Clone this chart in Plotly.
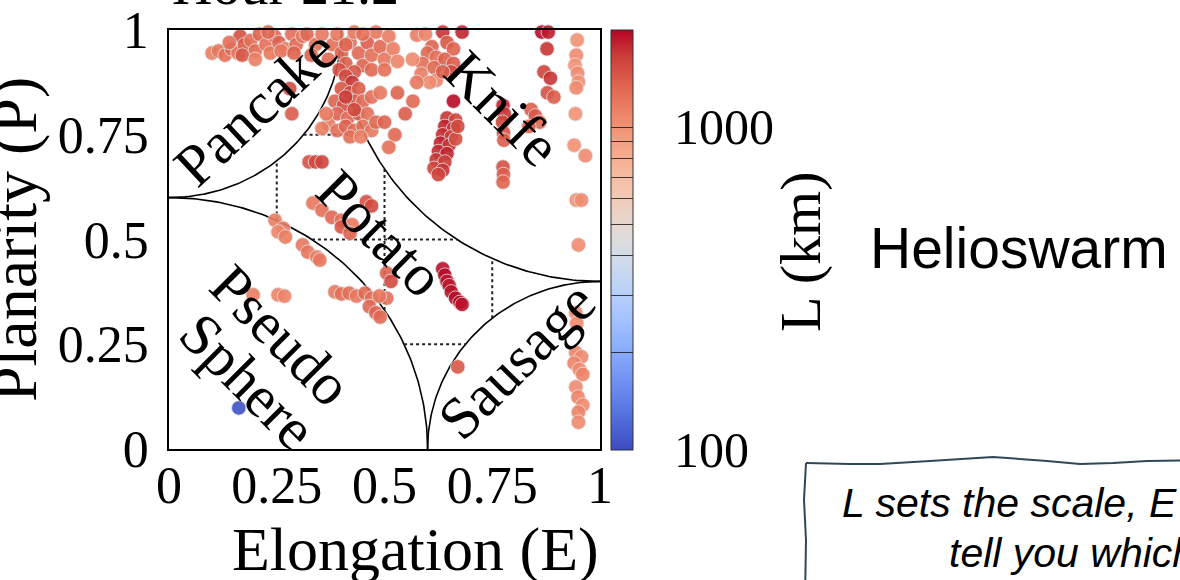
import numpy as np
import plotly.graph_objects as go

# ---------------- data ----------------
elongation = [
    .10, .115, .13, .145, .16, .165, .175, .19, .20, .21, .225, .235, .245, .255, .27, .285, .295, .31, .17, .23, .26, .20, .14, .29, .32, .34, .355, .33,
    .37, .38, .39, .40, .41, .42, .43, .44, .45, .46, .47, .48, .49, .50, .51, .52, .53, .395, .43, .47, .50, .41, .45,
    .41, .425, .40, .42, .44, .385, .405, .43, .45, .47, .49, .39, .415, .44, .46, .37, .39, .41, .43, .45, .47, .42, .445, .365, .355, .48, .41, .43,
    .53, .566, .548, .50, .524, .51, .28, .285, .325, .34, .355,
    .575, .595, .635, .68, .61, .645, .66, .60, .62, .64, .66, .588, .615, .585, .62, .605, .655, .575, .635, .565,
    .645, .665, .64, .66, .635, .655, .63, .65, .625, .645, .62, .64, .615, .635, .625, .665, .67, .66,
    .775, .778, .774, .776, .777, .775, .776, .775, .84, .85, .86, .835,
    .865, .88, .877, .87, .885, .878, .893,
    .947, .945, .942, .948, .95, .945, .943, .94, .966, .945, .957,
    .334, .355, .378, .40, .425, .458, .47, .40, .42, .505, .505, .515,
    .246, .265, .253, .27, .31, .322, .343, .35,
    .195, .253, .268, .385, .40, .418, .435, .455, .47, .488, .465, .48, .49,
    .635, .64, .645, .65, .655, .665, .675, .68,
    .67, .95, .944, .946, .944, .957, .94, .952, .96, .944, .949, .96, .95, .95, .162,
]
planarity = [
    .945, .95, .94, .955, .945, .985, .965, .975, .95, .99, .965, .945, .985, .97, .955, .99, .965, .985, .94, .995, .95, .93, .97, .945, .99, .965, .99, .94,
    .93, .965, .99, .945, .92, .97, .995, .945, .915, .97, .94, .995, .96, .93, .985, .955, .925, .905, .90, .905, .905, .965, .99,
    .89, .875, .86, .85, .86, .83, .82, .83, .83, .84, .85, .80, .79, .80, .80, .775, .76, .77, .76, .77, .76, .745, .745, .80, .765, .78, .84, .81,
    .85, .83, .80, .78, .75, .72, .86, .80, .685, .685, .685,
    .988, .99, .995, .995, .96, .97, .955, .945, .935, .93, .92, .92, .91, .895, .88, .875, .90, .875, .90, .93,
    .79, .785, .77, .765, .75, .745, .73, .725, .71, .705, .69, .685, .67, .665, .655, .74, .77, .83,
    .82, .80, .78, .755, .737, .673, .655, .637, .81, .795, .78, .77,
    .995, .995, .955, .90, .885, .85, .84,
    .976, .94, .916, .897, .876, .862, .80, .725, .70, .594, .594,
    .587, .57, .553, .546, .535, .59, .58, .53, .515, .42, .36, .40,
    .546, .527, .518, .506, .487, .47, .458, .451,
    .368, .368, .365, .375, .37, .372, .365, .372, .36, .365, .34, .325, .315,
    .43, .415, .40, .39, .375, .36, .35, .345,
    .196, .487, .325, .30, .23, .22, .205, .19, .178, .148, .124, .105, .088, .064, .098,
]
scale_km = [
    1150, 1200, 1250, 1300, 1200, 1500, 1400, 1250, 1300, 1350, 1250, 1200, 1300, 1350, 1150, 1250, 1300, 1200, 1450, 1300, 1200, 1150, 1250, 1350, 1300, 1250, 1200, 1350,
    1300, 1250, 1200, 1350, 1400, 1250, 1200, 1300, 1350, 1400, 1250, 1200, 1300, 1200, 1150, 1150, 1100, 1500, 1450, 1300, 1250, 1300, 1250,
    1550, 1700, 1450, 1600, 1400, 1350, 1500, 1450, 1300, 1250, 1200, 1350, 1300, 1400, 1250, 1200, 1250, 1350, 1300, 1250, 1200, 1250, 1150, 1200, 1150, 1300, 1650, 1550,
    1350, 1300, 1400, 1350, 1300, 1250, 1550, 1400, 1500, 1550, 1600,
    1150, 1100, 1700, 1800, 1350, 1450, 1350, 1300, 1250, 1350, 1400, 1250, 1300, 1150, 1100, 1050, 1550, 1200, 1400, 1050,
    1700, 1600, 1800, 1700, 1750, 1650, 1800, 1700, 1750, 1800, 1700, 1650, 1600, 1700, 1600, 1500, 1550, 1950,
    1800, 1700, 1600, 1500, 1400, 1500, 1400, 1350, 1400, 1450, 1300, 1350,
    1950, 1850, 1700, 1600, 1700, 1500, 1400,
    1000, 1050, 1000, 1050, 1000, 1050, 1000, 1000, 1050, 1000, 1050,
    1200, 1250, 1300, 1250, 1200, 1500, 1550, 1450, 1350, 1350, 1250, 1550,
    1150, 1150, 1100, 1150, 1200, 1200, 1150, 1200,
    1150, 1100, 1100, 1200, 1250, 1250, 1200, 1300, 1250, 1200, 1300, 1350, 1300,
    1900, 1950, 1900, 1850, 1900, 1950, 2000, 1900,
    1450, 1050, 1050, 1050, 1100, 1050, 1100, 1050, 1100, 1050, 1100, 1050, 1100, 1050, 105,
]
assert len(elongation) == len(planarity) == len(scale_km)

x_ticks = [0, 0.25, 0.5, 0.75, 1]
x_ticktext = ["0", "0.25", "0.5", "0.75", "1"]
y_ticks = [0, 0.25, 0.5, 0.75, 1]
y_ticktext = ["0", "0.25", "0.5", "0.75", "1"]
cbar_ticks_km = [100, 200, 300, 400, 500, 600, 700, 800, 900, 1000]
cbar_min_km, cbar_max_km = 100, 2000

region_labels = ["Pancake", "Knife", "Potato", "Pseudo", "Sphere", "Sausage"]
region_label_E = [0.20, 0.774, 0.49, 0.26, 0.183, 0.807]
region_label_P = [0.815, 0.814, 0.515, 0.272, 0.162, 0.212]
region_label_angle = [-43, 45, 45, 45, 45, -45]

# shape-class boundaries: quarter circles (centre E, centre P, radius, start deg, end deg)
R_SMALL, R_LARGE = 0.4, 0.6
arcs = [(0, 1, R_SMALL, -90, 0), (0, 0, R_LARGE, 0, 90),
        (1, 1, R_LARGE, 180, 270), (1, 0, R_SMALL, 90, 180)]
grid_levels = [0.25, 0.5, 0.75]

# ---------------- layout helpers ----------------
W, H = 1180, 580
ML, MR, MT, MB = 169, 580, 30, 131
PW, PH = W - ML - MR, H - MT - MB
def fx(px): return (px - ML) / PW
def fy(py): return (H - MB - py) / PH

SERIF = "Liberation Serif, Times New Roman, serif"
SANS = "Liberation Sans, Arial, sans-serif"

coolwarm = [
    [0.0, "rgb(59,76,192)"], [0.0625, "rgb(77,104,215)"], [0.125, "rgb(98,130,234)"],
    [0.1875, "rgb(119,154,247)"], [0.25, "rgb(141,176,254)"], [0.3125, "rgb(163,194,255)"],
    [0.375, "rgb(184,208,249)"], [0.4375, "rgb(204,217,238)"], [0.5, "rgb(221,221,221)"],
    [0.5625, "rgb(236,211,197)"], [0.625, "rgb(245,196,173)"], [0.6875, "rgb(247,177,148)"],
    [0.75, "rgb(244,154,123)"], [0.8125, "rgb(236,127,99)"], [0.875, "rgb(222,96,77)"],
    [0.9375, "rgb(203,62,56)"], [1.0, "rgb(180,4,38)"]]

fig = go.Figure()

# boundaries
for cx, cy, r, a0, a1 in arcs:
    t = np.radians(np.linspace(a0, a1, 120))
    fig.add_trace(go.Scatter(x=cx + r * np.cos(t), y=cy + r * np.sin(t), mode="lines",
                             line=dict(color="black", width=1.6), hoverinfo="skip", showlegend=False))

# dotted grid inside the potato region
def span(v):
    lows, highs = [], []
    if v < R_LARGE: lows.append(np.sqrt(R_LARGE**2 - v**2))
    if 1 - v < R_SMALL: lows.append(np.sqrt(R_SMALL**2 - (1 - v)**2))
    if 1 - v < R_LARGE: highs.append(1 - np.sqrt(R_LARGE**2 - (1 - v)**2))
    if v < R_SMALL: highs.append(1 - np.sqrt(R_SMALL**2 - v**2))
    return max(lows), min(highs)

for v in grid_levels:
    lo, hi = span(v)
    fig.add_trace(go.Scatter(x=[v, v], y=[lo, hi], mode="lines",
                             line=dict(color="#222", width=2, dash="dot"), hoverinfo="skip", showlegend=False))
    fig.add_trace(go.Scatter(x=[lo, hi], y=[v, v], mode="lines",
                             line=dict(color="#222", width=2, dash="dot"), hoverinfo="skip", showlegend=False))

# data points
fig.add_trace(go.Scatter(
    x=elongation, y=planarity, mode="markers", cliponaxis=False, showlegend=False,
    marker=dict(size=14.5, color=np.log10(scale_km), colorscale=coolwarm,
                cmin=np.log10(cbar_min_km), cmax=np.log10(cbar_max_km), opacity=0.9,
                line=dict(width=1, color="rgba(225,225,225,0.9)"),
                colorbar=dict(x=fx(611), xanchor="left", xpad=0, y=fy(240), yanchor="middle", ypad=0,
                              len=420, lenmode="pixels", thickness=22, thicknessmode="pixels",
                              outlinewidth=1, outlinecolor="#333",
                              tickvals=np.log10(cbar_ticks_km).tolist(), ticks="inside", ticklen=22,
                              tickwidth=1.2, tickcolor="rgba(20,20,20,0.8)", showticklabels=False)),
    hovertemplate="E=%{x}<br>P=%{y}<extra></extra>"))

ann = []
# chart title (mostly above the visible area)
ann.append(dict(x=fx(170), y=fy(-15), xref="paper", yref="paper", text="Hour 21.2", xanchor="left",
                yanchor="middle", showarrow=False, font=dict(family=SERIF, size=56, color="black")))
# axis titles
ann.append(dict(x=fx(415), y=fy(549), xref="paper", yref="paper", text="Elongation (E)",
                xanchor="center", yanchor="middle", showarrow=False,
                font=dict(family=SERIF, size=62, color="black")))
ann.append(dict(x=fx(14), y=fy(240), xref="paper", yref="paper", text="Planarity (P)", textangle=-90,
                xanchor="center", yanchor="middle", showarrow=False,
                font=dict(family=SERIF, size=64, color="black")))
for txt, e, p, ang in zip(region_labels, region_label_E, region_label_P, region_label_angle):
    ann.append(dict(x=e, y=p, xref="x", yref="y", text=txt, textangle=ang, showarrow=False,
                    xanchor="center", yanchor="middle",
                    font=dict(family=SERIF, size=59, color="black")))
# colorbar labels
ann.append(dict(x=fx(672), y=fy(127), xref="paper", yref="paper", text="1000", xanchor="left",
                yanchor="middle", showarrow=False, font=dict(family=SERIF, size=50, color="black")))
ann.append(dict(x=fx(672), y=fy(450), xref="paper", yref="paper", text="100", xanchor="left",
                yanchor="middle", showarrow=False, font=dict(family=SERIF, size=50, color="black")))
ann.append(dict(x=fx(800), y=fy(252), xref="paper", yref="paper", text="L (km)", textangle=-90,
                xanchor="center", yanchor="middle",
                showarrow=False, font=dict(family=SERIF, size=58, color="black")))
ann.append(dict(x=fx(868), y=fy(248), xref="paper", yref="paper", text="Helioswarm", xanchor="left",
                yanchor="middle", showarrow=False, font=dict(family=SANS, size=57, color="black")))
ann.append(dict(x=fx(840), y=fy(503), xref="paper", yref="paper", text="<i>L sets the scale, E and P</i>",
                xanchor="left", yanchor="middle", showarrow=False, font=dict(family=SANS, size=41, color="black")))
ann.append(dict(x=fx(947), y=fy(553), xref="paper", yref="paper", text="<i>tell you which shape</i>",
                xanchor="left", yanchor="middle", showarrow=False, font=dict(family=SANS, size=41, color="black")))

# wavy note box
top_pts = [(806, 463), (850, 464), (880, 464), (930, 461), (993, 457), (1047, 461), (1080, 464),
           (1113, 463), (1147, 461), (1220, 460)]
left_pts = [(806, 463), (804, 500), (806, 540), (805, 600)]
def path_of(pts):
    return "M " + " L ".join(f"{fx(a):.5f},{fy(b):.5f}" for a, b in pts)
shapes = [dict(type="path", xref="paper", yref="paper", path=path_of(top_pts),
               line=dict(color="#2f4858", width=2)),
          dict(type="path", xref="paper", yref="paper", path=path_of(left_pts),
               line=dict(color="#2f4858", width=2))]

axis_common = dict(range=[0, 1], showgrid=False, zeroline=False, showline=True, mirror=True,
                   linecolor="black", linewidth=1.5, ticks="", automargin=False,
                   tickfont=dict(family=SERIF, size=52, color="black"))
fig.update_layout(
    width=W, height=H, margin=dict(l=ML, r=MR, t=MT, b=MB, autoexpand=False),
    paper_bgcolor="white", plot_bgcolor="white",
    xaxis=dict(**axis_common, tickvals=x_ticks, ticktext=x_ticktext, ticklabelstandoff=-10),
    yaxis=dict(**axis_common, tickvals=y_ticks, ticktext=y_ticktext, ticklabelstandoff=8),
    annotations=ann, shapes=shapes,
)
# remove the browser's default page margin so the figure starts at the window corner
fig.write_html("out.html", config={"displayModeBar": False},
               post_script="document.body.style.margin='0px';")
